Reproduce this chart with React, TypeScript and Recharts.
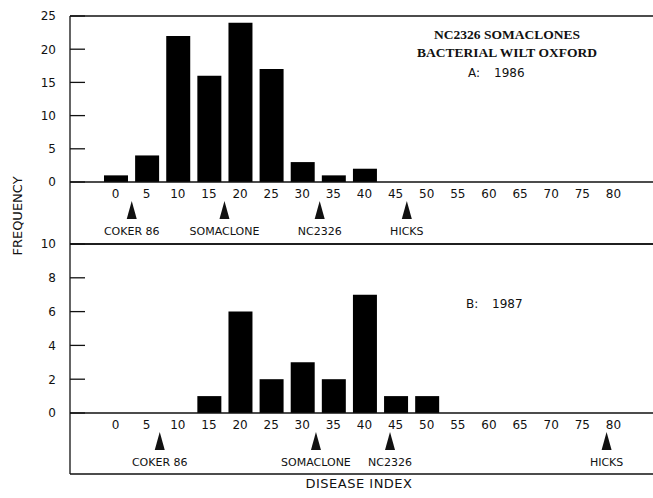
import React from 'react';
import { BarChart, Bar, XAxis, YAxis, ReferenceLine } from 'recharts';

// ---------- data ----------
const diseaseIndex = [0, 5, 10, 15, 20, 25, 30, 35, 40, 45, 50, 55, 60, 65, 70, 75, 80];
const freq1986 = [1, 4, 22, 16, 24, 17, 3, 1, 2, 0, 0, 0, 0, 0, 0, 0, 0];
const freq1987 = [0, 0, 0, 1, 6, 2, 3, 2, 7, 1, 1, 0, 0, 0, 0, 0, 0];
const yTicks1986 = [0, 5, 10, 15, 20, 25];
const yTicks1987 = [0, 2, 4, 6, 8, 10];
const markerNames = ['COKER 86', 'SOMACLONE', 'NC2326', 'HICKS'];
const markers1986 = [2.6, 17.5, 32.8, 46.8];
const markers1987 = [7.1, 32.2, 44.1, 78.9];
const titleLines = ['NC2326 SOMACLONES', 'BACTERIAL WILT OXFORD'];
const panelLabels = ['A:', 'B:'];
const panelYears = ['1986', '1987'];

// ---------- layout / style ----------
const W = 653;
const Y_W = 70;
const PAD = { left: 30, right: 24 };
const N_CAT = diseaseIndex.length;
const FONT = '"DejaVu Sans", sans-serif';
const INK = '#111';
const SW = 1.3;
const TICK_MARGIN = 14;
const TICK_LEN = 15;

// half a category band, so the numeric axis lines up with the band centres
const HALF_BAND = (W - Y_W - PAD.left - PAD.right) / N_CAT / 2;
const NUM_PAD = { left: PAD.left + HALF_BAND, right: PAD.right + HALF_BAND };
const NUM_DOMAIN: [number, number] = [diseaseIndex[0], diseaseIndex[N_CAT - 1]];

const rows1986 = diseaseIndex.map((d, i) => ({ idx: String(d), num: d, v: freq1986[i] }));
const rows1987 = diseaseIndex.map((d, i) => ({ idx: String(d), num: d, v: freq1987[i] }));

const YTick = (props: any) => {
  const { x, y, payload } = props;
  return (
    <g>
      <text x={x} y={y} dy="0.36em" textAnchor="end" fontSize={12} fill={INK} fontFamily={FONT}>
        {payload.value}
      </text>
      <line x1={x + TICK_MARGIN} x2={x + TICK_MARGIN + TICK_LEN} y1={y} y2={y} stroke={INK} strokeWidth={SW} />
    </g>
  );
};

const MarkerTick = (props: any) => {
  const { x, y, index } = props;
  return (
    <g>
      <path d={`M${x},${y + 1} L${x + 5},${y + 19} L${x - 5},${y + 19} Z`} fill={INK} />
      <text x={x} y={y + 35} textAnchor="middle" fontSize={11} fill={INK} fontFamily={FONT}>
        {markerNames[index]}
      </text>
    </g>
  );
};

type PanelProps = {
  rows: { idx: string; num: number; v: number }[];
  yTicks: number[];
  markers: number[];
  height: number;
  margin: { top: number; right: number; bottom: number; left: number };
  markH: number;
};

const Panel = ({ rows, yTicks, markers, height, margin, markH }: PanelProps) => {
  const yMax = yTicks[yTicks.length - 1];
  return (
    <BarChart width={W} height={height} data={rows} margin={margin}>
      <XAxis
        xAxisId="x1cat"
        dataKey="idx"
        type="category"
        interval={0}
        padding={PAD}
        height={18}
        tickSize={0}
        tickMargin={7}
        tickLine={false}
        axisLine={{ stroke: INK, strokeWidth: SW }}
        tick={{ fontSize: 12, fill: INK, fontFamily: FONT }}
      />
      <XAxis
        xAxisId="x2mark"
        dataKey="num"
        type="number"
        domain={NUM_DOMAIN}
        ticks={markers}
        interval={0}
        padding={NUM_PAD}
        height={markH}
        tickSize={0}
        tickMargin={0}
        tickLine={false}
        axisLine={false}
        tick={<MarkerTick />}
      />
      <XAxis
        xAxisId="x3frame"
        dataKey="num"
        type="number"
        domain={NUM_DOMAIN}
        padding={{ left: 0, right: 0 }}
        height={1}
        tick={false}
        tickLine={false}
        axisLine={{ stroke: INK, strokeWidth: SW }}
      />
      <YAxis
        width={Y_W}
        domain={[0, yMax]}
        ticks={yTicks}
        interval={0}
        tickSize={0}
        tickMargin={TICK_MARGIN}
        tickLine={false}
        axisLine={false}
        tick={<YTick />}
      />
      <ReferenceLine xAxisId="x1cat" y={yMax} stroke={INK} strokeWidth={SW} />
      <Bar xAxisId="x1cat" dataKey="v" fill="#000" barSize={24} isAnimationActive={false} />
    </BarChart>
  );
};

export default function App() {
  return (
    <div style={{ position: 'absolute', left: 0, top: 0, width: W, height: 498, background: '#fff' }}>
      <div style={{ position: 'absolute', left: 0, top: 0 }}>
        <Panel
          rows={rows1986}
          yTicks={yTicks1986}
          markers={markers1986}
          height={247}
          margin={{ top: 16, right: 0, bottom: 2, left: 0 }}
          markH={44}
        />
      </div>
      <div style={{ position: 'absolute', left: 0, top: 230 }}>
        <Panel
          rows={rows1987}
          yTicks={yTicks1987}
          markers={markers1987}
          height={268}
          margin={{ top: 14, right: 0, bottom: 23, left: 0 }}
          markH={43}
        />
      </div>
      <svg
        width={W}
        height={498}
        style={{ position: 'absolute', left: 0, top: 0, pointerEvents: 'none' }}
      >
        <line x1={Y_W} x2={Y_W} y1={16} y2={474} stroke={INK} strokeWidth={SW} />
        <text x={507} y={39} textAnchor="middle" fontSize={13.5} fontWeight="bold" fill={INK}
          fontFamily='"Liberation Serif", serif'>{titleLines[0]}</text>
        <text x={507} y={57} textAnchor="middle" fontSize={13.5} fontWeight="bold" fill={INK}
          fontFamily='"Liberation Serif", serif'>{titleLines[1]}</text>
        <text x={468} y={77} fontSize={12} fill={INK} fontFamily={FONT}>{panelLabels[0]}</text>
        <text x={494} y={77} fontSize={12} fill={INK} fontFamily={FONT}>{panelYears[0]}</text>
        <text x={466} y={308} fontSize={12} fill={INK} fontFamily={FONT}>{panelLabels[1]}</text>
        <text x={492} y={308} fontSize={12} fill={INK} fontFamily={FONT}>{panelYears[1]}</text>
        <text
          x={0}
          y={0}
          transform="translate(22,216) rotate(-90)"
          textAnchor="middle"
          fontSize={13}
          fill={INK}
          fontFamily={FONT}
        >
          FREQUENCY
        </text>
        <text x={359} y={488} textAnchor="middle" fontSize={13} letterSpacing={0.5} fill={INK} fontFamily={FONT}>
          DISEASE INDEX
        </text>
      </svg>
    </div>
  );
}
